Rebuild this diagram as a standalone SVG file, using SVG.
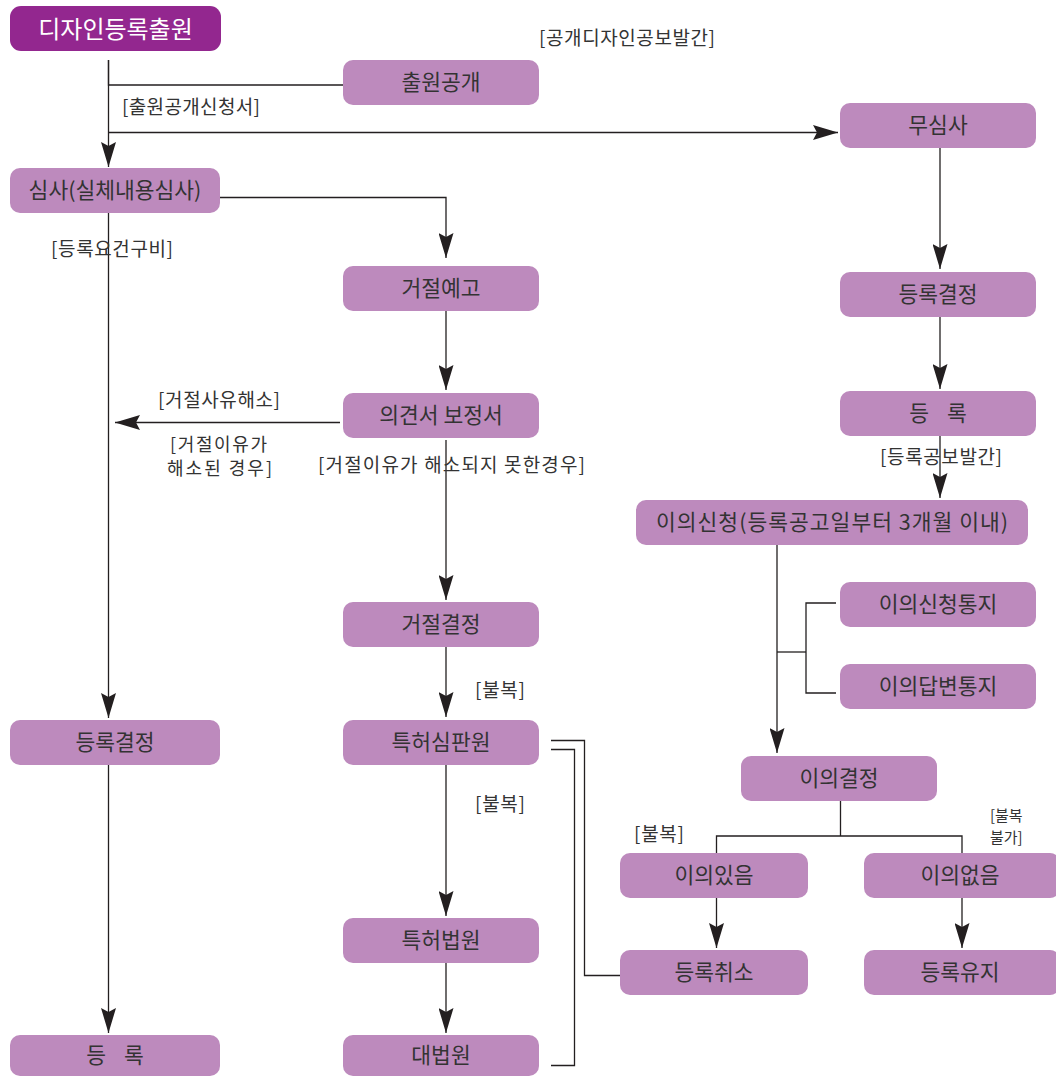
<svg xmlns="http://www.w3.org/2000/svg" width="1056" height="1076" viewBox="0 0 1056 1076">
  <style>
    .box { fill: #bd8abd; }
    .title { fill: #93278f; }
    .t { font-family: "Noto Sans CJK KR", "Noto Sans", sans-serif; font-size: 21.5px; fill: #333333; text-anchor: middle; }
    .tt { font-family: "Noto Sans CJK KR", "Noto Sans", sans-serif; font-size: 24px; fill: #ffffff; text-anchor: middle; }
    .lb { font-family: "Noto Sans CJK KR", "Noto Sans", sans-serif; font-size: 19px; fill: #333333; text-anchor: middle; }
    .lb2 { font-family: "Noto Sans CJK KR", "Noto Sans", sans-serif; font-size: 18px; fill: #333333; text-anchor: middle; }
    .lbs { font-family: "Noto Sans CJK KR", "Noto Sans", sans-serif; font-size: 15px; fill: #333333; }
    .ln { fill: none; stroke: #231f20; stroke-width: 1.3; }
    .ar { marker-end: url(#arrow); }
  </style>
  <defs>
    <marker id="arrow" markerUnits="userSpaceOnUse" viewBox="0 0 25 15" markerWidth="25" markerHeight="15" refX="25" refY="7.5" orient="auto">
      <path d="M0,0 L25,7.5 L0,15 L4,7.5 Z" fill="#231f20"/>
    </marker>
  </defs>

  <rect width="1056" height="1076" fill="#ffffff"/>

  <!-- connectors -->
  <g id="connectors">
    <!-- application trunk -->
    <path class="ln" d="M108.5,60 V85 H343"/>
    <path class="ln ar" d="M108.5,60 V167"/>
    <path class="ln ar" d="M108.5,132.5 H838"/>
    <!-- substantive examination branches -->
    <path class="ln ar" d="M220,197.5 H446 V258"/>
    <path class="ln ar" d="M108.5,213 V718"/>
    <path class="ln ar" d="M108.5,765 V1033"/>
    <!-- rejection path -->
    <path class="ln ar" d="M446,311 V390"/>
    <path class="ln ar" d="M340,422.5 H115"/>
    <path class="ln ar" d="M446,440 V600"/>
    <path class="ln ar" d="M446,647 V717"/>
    <path class="ln ar" d="M446,765 V916"/>
    <path class="ln ar" d="M446,963 V1033"/>
    <!-- trial board side lines -->
    <path class="ln" d="M551,740.5 H584.5 V975.5 H620"/>
    <path class="ln" d="M551,749.5 H574.5 V1065.5 H551"/>
    <!-- non-examination path -->
    <path class="ln ar" d="M940,148 V269"/>
    <path class="ln ar" d="M940,317 V389"/>
    <path class="ln ar" d="M940,436 V498"/>
    <!-- opposition -->
    <path class="ln ar" d="M777,545 V753"/>
    <path class="ln" d="M777,652 H806"/>
    <path class="ln" d="M836,603 H806 V693 H836"/>
    <path class="ln" d="M840.5,800 V836 M716.5,853 V836 H962 V853"/>
    <path class="ln ar" d="M716.5,898 V948"/>
    <path class="ln ar" d="M962,898 V948"/>
  </g>

  <!-- labels on connectors -->
  <g id="labels">
    <text class="lb" x="627" y="45" textLength="176" lengthAdjust="spacing">[공개디자인공보발간]</text>
    <text class="lb" x="191" y="114" textLength="138" lengthAdjust="spacing">[출원공개신청서]</text>
    <text class="lb" x="112" y="256" textLength="122" lengthAdjust="spacing">[등록요건구비]</text>
    <text class="lb" x="219" y="407" textLength="122" lengthAdjust="spacing">[거절사유해소]</text>
    <text class="lb2" x="218.5" y="451" textLength="97" lengthAdjust="spacing">[거절이유가</text>
    <text class="lb2" x="219.5" y="475" textLength="105" lengthAdjust="spacing">해소된 경우]</text>
    <text class="lb" x="451.5" y="472" textLength="267" lengthAdjust="spacing">[거절이유가 해소되지 못한경우]</text>
    <text class="lb" x="500" y="697" textLength="50" lengthAdjust="spacing">[불복]</text>
    <text class="lb" x="500" y="811" textLength="50" lengthAdjust="spacing">[불복]</text>
    <text class="lb" x="941" y="464" textLength="122" lengthAdjust="spacing">[등록공보발간]</text>
    <text class="lb" x="659" y="841" textLength="50" lengthAdjust="spacing">[불복]</text>
    <text class="lbs" x="990" y="821">[불복</text>
    <text class="lbs" x="990" y="843">불가]</text>
  </g>

  <!-- nodes -->
  <g id="n-application">
    <rect class="title" x="10" y="6" width="211" height="45" rx="11"/>
    <text class="tt" x="115.5" y="37.5">디자인등록출원</text>
  </g>
  <g id="n-publication">
    <rect class="box" x="343" y="60" width="196" height="45" rx="10"/>
    <text class="t" x="441" y="90">출원공개</text>
  </g>
  <g id="n-no-exam">
    <rect class="box" x="840" y="103" width="196" height="45" rx="10"/>
    <text class="t" x="938" y="133">무심사</text>
  </g>
  <g id="n-exam">
    <rect class="box" x="10" y="168" width="210" height="45" rx="10"/>
    <text class="t" x="115" y="198">심사(실체내용심사)</text>
  </g>
  <g id="n-rejection-notice">
    <rect class="box" x="343" y="266" width="196" height="45" rx="10"/>
    <text class="t" x="441" y="296">거절예고</text>
  </g>
  <g id="n-grant-right">
    <rect class="box" x="840" y="272" width="196" height="45" rx="10"/>
    <text class="t" x="938" y="302">등록결정</text>
  </g>
  <g id="n-response">
    <rect class="box" x="343" y="393" width="196" height="45" rx="10"/>
    <text class="t" x="441" y="423">의견서 보정서</text>
  </g>
  <g id="n-register-right">
    <rect class="box" x="840" y="391" width="196" height="45" rx="10"/>
    <text class="t" x="938" y="421">등<tspan dx="18">록</tspan></text>
  </g>
  <g id="n-opposition">
    <rect class="box" x="636" y="500" width="392" height="45" rx="10"/>
    <text class="t" x="832" y="530" textLength="352" lengthAdjust="spacing">이의신청(등록공고일부터 3개월 이내)</text>
  </g>
  <g id="n-opposition-notice">
    <rect class="box" x="840" y="582" width="196" height="45" rx="10"/>
    <text class="t" x="938" y="612">이의신청통지</text>
  </g>
  <g id="n-reply-notice">
    <rect class="box" x="840" y="664" width="196" height="45" rx="10"/>
    <text class="t" x="938" y="694">이의답변통지</text>
  </g>
  <g id="n-rejection">
    <rect class="box" x="343" y="602" width="196" height="45" rx="10"/>
    <text class="t" x="441" y="632">거절결정</text>
  </g>
  <g id="n-grant-left">
    <rect class="box" x="10" y="720" width="210" height="45" rx="10"/>
    <text class="t" x="115" y="750">등록결정</text>
  </g>
  <g id="n-trial-board">
    <rect class="box" x="343" y="720" width="196" height="45" rx="10"/>
    <text class="t" x="441" y="750">특허심판원</text>
  </g>
  <g id="n-opposition-decision">
    <rect class="box" x="741" y="756" width="196" height="45" rx="10"/>
    <text class="t" x="839" y="786">이의결정</text>
  </g>
  <g id="n-upheld">
    <rect class="box" x="620" y="853" width="188" height="45" rx="10"/>
    <text class="t" x="714" y="883">이의있음</text>
  </g>
  <g id="n-rejected">
    <rect class="box" x="864" y="853" width="196" height="45" rx="10"/>
    <text class="t" x="960" y="883">이의없음</text>
  </g>
  <g id="n-patent-court">
    <rect class="box" x="343" y="918" width="196" height="45" rx="10"/>
    <text class="t" x="441" y="948">특허법원</text>
  </g>
  <g id="n-cancel">
    <rect class="box" x="620" y="950" width="188" height="45" rx="10"/>
    <text class="t" x="714" y="980">등록취소</text>
  </g>
  <g id="n-maintain">
    <rect class="box" x="864" y="950" width="196" height="45" rx="10"/>
    <text class="t" x="960" y="980">등록유지</text>
  </g>
  <g id="n-register-left">
    <rect class="box" x="10" y="1035" width="210" height="41" rx="10"/>
    <text class="t" x="115" y="1063">등<tspan dx="18">록</tspan></text>
  </g>
  <g id="n-supreme-court">
    <rect class="box" x="343" y="1035" width="196" height="41" rx="10"/>
    <text class="t" x="441" y="1063">대법원</text>
  </g>
</svg>
